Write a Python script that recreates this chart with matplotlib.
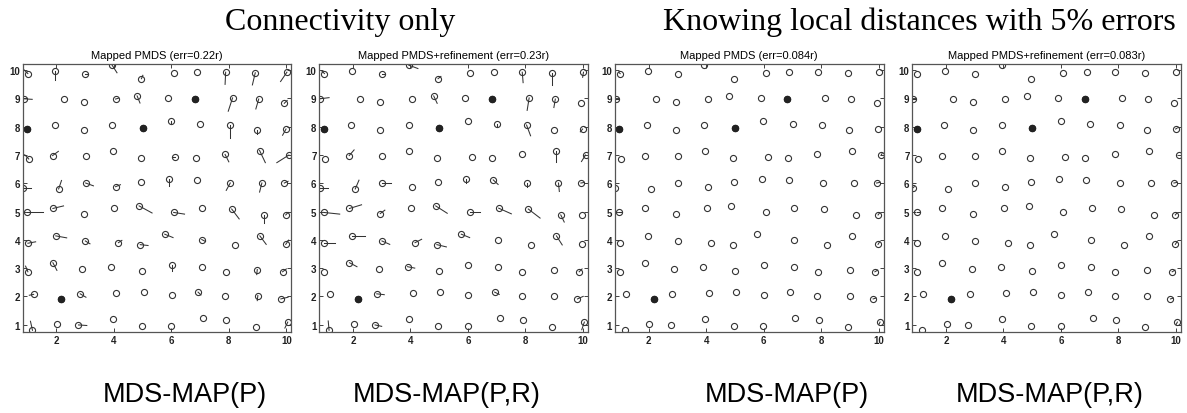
import matplotlib
matplotlib.use("Agg")
import matplotlib.pyplot as plt

# true node positions, row by row from the top (y ~ 10) to the bottom (y ~ 1)
node_x = [1.01, 1.97, 3.01, 3.94, 4.96, 6.08, 6.89, 7.89, 8.92, 10.02,
          0.86, 2.26, 2.95, 4.06, 4.81, 5.90, 6.83, 8.13, 9.04, 9.93,
          0.98, 1.94, 2.95, 3.94, 5.00, 5.99, 7.01, 8.04, 8.98, 9.99,
          1.04, 1.87, 3.02, 3.96, 4.93, 6.14, 6.85, 7.87, 9.07, 10.09,
          0.84, 2.08, 3.02, 4.06, 4.96, 5.93, 6.88, 8.05, 9.15, 9.93,
          0.98, 1.88, 2.95, 4.02, 4.88, 6.08, 7.07, 8.10, 9.23, 9.98,
          1.01, 1.98, 3.01, 4.16, 4.92, 5.77, 7.06, 8.21, 9.08, 9.98,
          1.01, 1.88, 2.89, 3.90, 4.99, 6.02, 7.06, 7.89, 8.99, 9.87,
          1.21, 2.17, 2.83, 4.09, 5.04, 6.02, 6.93, 7.87, 9.01, 9.81,
          1.17, 2.02, 2.77, 3.96, 4.97, 5.99, 7.10, 7.91, 8.93, 10.05]
node_y = [9.88, 9.96, 9.85, 10.18, 9.70, 9.91, 9.93, 9.93, 9.91, 9.93,
          8.99, 8.97, 8.87, 8.98, 9.09, 9.02, 8.99, 9.02, 8.98, 8.83,
          7.93, 8.05, 7.88, 8.05, 7.96, 8.20, 8.08, 8.06, 7.88, 7.92,
          6.86, 6.98, 6.96, 7.16, 6.90, 6.92, 6.90, 7.02, 7.16, 7.00,
          5.83, 5.80, 6.01, 5.88, 6.06, 6.15, 6.12, 6.01, 6.01, 6.01,
          4.97, 5.11, 4.93, 5.11, 5.20, 4.97, 5.12, 5.09, 4.88, 4.88,
          3.88, 4.14, 3.96, 3.90, 3.83, 4.20, 4.01, 3.83, 4.14, 3.84,
          2.87, 3.19, 2.98, 3.05, 2.91, 3.10, 3.04, 2.85, 2.95, 2.87,
          2.07, 1.89, 2.09, 2.11, 2.15, 2.04, 2.15, 2.01, 2.03, 1.91,
          0.80, 1.04, 0.99, 1.20, 0.95, 0.95, 1.22, 1.17, 0.90, 1.09]
anchors = [16, 20, 24, 81]

# error vectors (node, dx, dy) per panel, only where visible
err_p = [(0, -0.14, 0.14), (1, 0, -0.3), (2, 0.1, 0), (3, 0.17, -0.27), (4, 0.05, 0.12),
         (7, -0.02, -0.43), (8, -0.1, -0.43), (9, -0.22, -0.33),
         (10, 0.3, -0.02), (13, 0.1, 0.03), (14, 0.1, -0.25), (17, -0.15, -0.47),
         (18, -0.1, -0.35), (19, 0.1, 0.1),
         (25, 0, -0.1), (27, 0, -0.46), (28, 0, -0.15), (29, -0.12, -0.22),
         (30, -0.14, 0.15), (31, 0.2, 0.15), (35, -0.13, 0), (37, 0.13, -0.26),
         (38, 0.2, -0.43), (39, -0.42, -0.27),
         (40, 0.29, 0), (41, 0.1, 0.3), (42, 0.27, -0.1), (43, 0.17, 0.07), (45, 0, -0.23),
         (47, -0.14, -0.26), (48, -0.08, -0.32), (49, 0.13, 0.06),
         (50, 0.57, 0), (51, 0.37, 0.09), (54, 0.45, -0.25), (55, 0.38, -0.06),
         (57, 0.26, -0.35), (58, 0, -0.27), (59, 0.08, 0.09),
         (60, 0.27, 0.05), (61, 0.38, -0.07), (62, 0.16, -0.1), (63, 0.12, 0.08),
         (64, 0.27, -0.03), (65, 0.29, -0.12), (66, 0.13, -0.07), (68, 0.22, -0.3), (69, 0.1, 0.15),
         (70, -0.08, 0.2), (71, 0.14, -0.27), (75, 0, -0.2), (78, -0.02, -0.18), (79, 0.13, 0.1),
         (80, -0.15, -0.03), (82, 0.2, -0.12), (86, 0.1, -0.1), (88, -0.02, -0.18), (89, 0.25, 0.06),
         (90, -0.07, 0.32), (92, 0.29, -0.02), (99, -0.1, -0.21)]
err_pr = [(0, -0.1, 0.1), (2, 0.1, 0), (3, 0.32, -0.12), (4, 0.1, 0.08), (7, 0.03, -0.37),
          (8, 0, -0.42), (9, -0.03, -0.18),
          (10, 0.31, 0.04), (14, 0.12, -0.26), (17, -0.07, -0.44), (18, -0.05, -0.3),
          (26, 0, -0.1), (27, 0.14, -0.38), (29, -0.08, -0.1),
          (31, 0.17, 0.2), (38, 0, -0.41), (39, -0.14, -0.23),
          (40, 0.29, 0), (41, 0.13, 0.31), (42, 0.29, 0), (45, 0, -0.15), (46, 0.17, -0.16),
          (47, 0, -0.14), (48, 0.03, -0.3), (49, 0.12, 0.02),
          (50, 0.56, -0.06), (51, 0.42, 0.13), (52, 0.16, 0.12), (54, 0.4, -0.26), (55, 0.35, 0),
          (56, 0.44, -0.2), (57, 0.41, -0.32), (58, 0.12, -0.25),
          (60, 0.35, 0), (61, 0.43, 0), (62, 0.27, -0.12), (63, 0.23, 0.12), (64, 0.33, -0.08),
          (65, 0.29, -0.12), (68, 0.2, -0.32),
          (71, 0.26, -0.14), (73, 0.25, -0.05), (79, 0.1, 0.1),
          (82, 0.26, -0.03), (86, 0.16, -0.08), (89, 0.2, 0.09),
          (90, -0.03, 0.33), (92, 0.23, -0.05), (99, -0.09, -0.27)]
err_d_p = [(0, -0.05, 0.05), (10, 0.08, 0), (39, 0.03, 0.05), (49, 0.1, 0.02), (50, 0.1, 0),
           (59, 0.06, 0.08), (69, 0.06, 0.1), (79, 0.1, 0.06), (89, 0.1, 0.03), (99, -0.04, -0.08)]
err_d_pr = [(10, 0.08, 0), (29, 0.05, 0.03), (40, 0.06, 0.05), (49, 0.1, 0.02), (50, 0.08, 0),
            (59, 0.06, 0.08), (69, 0.06, 0.1), (79, 0.1, 0.06), (89, 0.1, 0.03), (99, -0.04, -0.08)]

panel_titles = ["Mapped PMDS (err=0.22r)", "Mapped PMDS+refinement (err=0.23r)",
                "Mapped PMDS (err=0.084r)", "Mapped PMDS+refinement (err=0.083r)"]
panel_errs = [err_p, err_pr, err_d_p, err_d_pr]
method_labels = ["MDS-MAP(P)", "MDS-MAP(P,R)", "MDS-MAP(P)", "MDS-MAP(P,R)"]
headers = ["Connectivity only", "Knowing local distances with 5% errors"]

W, H = 1187, 414
fig = plt.figure(figsize=(W / 100, H / 100), dpi=100)
lefts = [22.7, 319.3, 615, 912.3]
label_cx = [185, 447, 787, 1050]

for k in range(4):
    ax = fig.add_axes([lefts[k] / W, 1 - 333 / H, 268.5 / W, 268 / H])
    for i, dx, dy in panel_errs[k]:
        ax.plot([node_x[i], node_x[i] + dx], [node_y[i], node_y[i] + dy],
                color="#333333", lw=0.75)
    ax.plot(node_x, node_y, "o", ms=4.4, mfc="none", mec="#333333", mew=0.8)
    ax.plot([node_x[i] for i in anchors], [node_y[i] for i in anchors], "o",
            ms=4.4, mfc="#222222", mec="#222222")
    ax.set_xlim(0.83, 10.17)
    ax.set_ylim(0.74, 10.22)
    ax.set_xticks([2, 4, 6, 8, 10])
    ax.set_yticks(range(1, 11))
    ax.tick_params(direction="in", length=3, width=0.6, top=True, right=True,
                   labelsize=7, pad=2, colors="#222222")
    for lab in ax.get_xticklabels() + ax.get_yticklabels():
        lab.set_family("Liberation Sans")
        lab.set_fontweight("bold")
    for s in ax.spines.values():
        s.set_color("#555555")
        s.set_linewidth(0.9)
    ax.set_title(panel_titles[k], fontsize=8, family="Liberation Sans", pad=4)
    fig.text(label_cx[k] / W, 1 - 395 / H, method_labels[k], ha="center", va="center",
             fontsize=19.5, family="Liberation Sans")

fig.text(340 / W, 1 - 30 / H, headers[0], ha="center", va="baseline",
         fontsize=23, family="Liberation Serif")
fig.text(919 / W, 1 - 30 / H, headers[1], ha="center", va="baseline",
         fontsize=23, family="Liberation Serif")

fig.savefig("out.png", dpi=100, facecolor="white")
